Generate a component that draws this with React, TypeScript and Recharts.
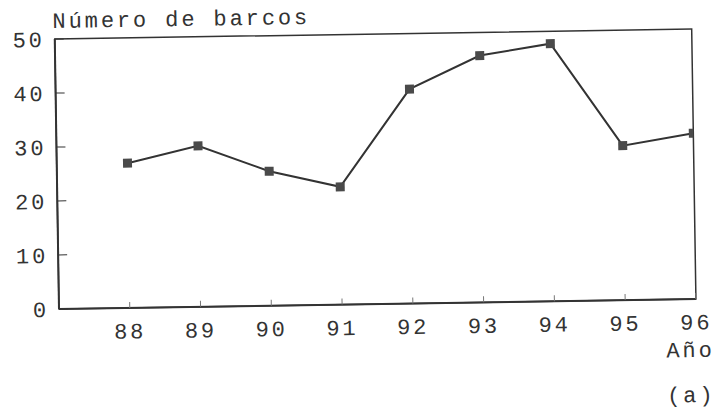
import React from 'react';
import { LineChart, Line, XAxis, YAxis, ReferenceArea } from 'recharts';

const years = [88, 89, 90, 91, 92, 93, 94, 95, 96];
const boats = [26.8, 29.8, 24.9, 21.8, 39.7, 45.7, 47.7, 28.6, 30.7];
const xTicks = [88, 89, 90, 91, 92, 93, 94, 95, 96];
const yTicks = [0, 10, 20, 30, 40, 50];
const yTitle = 'Número de barcos';
const xTitle = 'Año';
const panelLabel = '(a)';

const data = years.map((y, i) => ({ year: y, boats: boats[i] }));

const FONT = "'Liberation Mono', 'DejaVu Sans Mono', monospace";
const INK = '#333333';
const FS = 22;
const LS = 2.9;
const tickStyle = { fontFamily: FONT, fontSize: FS, fill: INK, letterSpacing: LS };

const SquareDot = (props: any) => {
  const { cx, cy, index } = props;
  if (cx == null || cy == null) return null;
  return <rect key={`d${index}`} x={cx - 4.5} y={cy - 4.5} width={9} height={9} fill="#4a4a4a" />;
};

export default function App() {
  const W = 730;
  const H = 430;
  return (
    <div
      style={{
        position: 'absolute',
        left: 0,
        top: 0,
        width: W,
        height: H,
        transform: 'rotate(-0.9deg)',
        transformOrigin: '59px 309px',
        background: '#fff',
      }}
    >
      <LineChart
        width={W}
        height={H}
        data={data}
        margin={{ top: 39, right: 34, bottom: 0, left: 0 }}
      >
        <ReferenceArea x1={87} x2={96} y1={0} y2={50} fill="none" stroke={INK} strokeWidth={1.5} ifOverflow="visible" />
        <XAxis
          dataKey="year"
          type="number"
          domain={[87, 96]}
          ticks={xTicks}
          allowDataOverflow
          height={121}
          tickSize={-6}
          tickMargin={21}
          tick={tickStyle}
          axisLine={{ stroke: INK, strokeWidth: 2 }}
          tickLine={{ stroke: '#777', strokeWidth: 1 }}
        />
        <YAxis
          type="number"
          domain={[0, 50]}
          ticks={yTicks}
          allowDataOverflow
          width={59}
          tickSize={-9}
          tickMargin={19}
          tick={tickStyle}
          axisLine={{ stroke: INK, strokeWidth: 2 }}
          tickLine={{ stroke: INK, strokeWidth: 1 }}
        />
        <Line
          type="linear"
          dataKey="boats"
          stroke={INK}
          strokeWidth={2}
          dot={SquareDot}
          activeDot={false}
          isAnimationActive={false}
        />
      </LineChart>
      <svg
        width={W}
        height={H}
        style={{ position: 'absolute', left: 0, top: 0, pointerEvents: 'none' }}
      >
        <text x={57} y={28} fontFamily={FONT} fontSize={FS} fill={INK} letterSpacing={LS} textAnchor="start">
          {yTitle}
        </text>
        <text x={714} y={367} fontFamily={FONT} fontSize={FS} fill={INK} letterSpacing={LS} textAnchor="end">
          {xTitle}
        </text>
        <text x={714} y={412} fontFamily={FONT} fontSize={FS} fill={INK} letterSpacing={LS} textAnchor="end">
          {panelLabel}
        </text>
      </svg>
    </div>
  );
}
